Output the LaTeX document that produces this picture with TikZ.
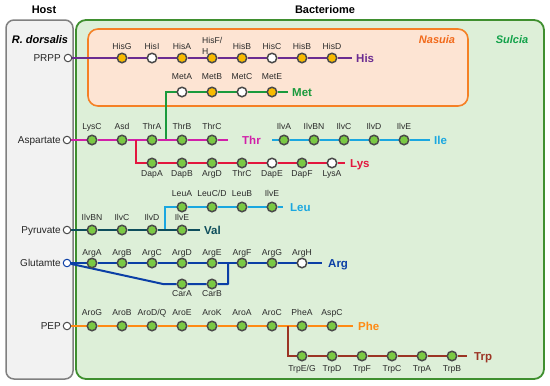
\documentclass[tikz,border=0pt]{standalone}
\usepackage{fontspec}
\setmainfont{Liberation Sans}
\definecolor{hostfill}{HTML}{F2F2F2}
\definecolor{hostdraw}{HTML}{808080}
\definecolor{bacfill}{HTML}{DDEFD8}
\definecolor{bacdraw}{HTML}{3F8F2F}
\definecolor{nasfill}{HTML}{FDE4D3}
\definecolor{nasdraw}{HTML}{F58025}
\definecolor{nastext}{HTML}{F26A1B}
\definecolor{sultext}{HTML}{12A24A}
\definecolor{ndgray}{HTML}{4A4A4A}
\definecolor{ngreen}{HTML}{7AC943}
\definecolor{nyellow}{HTML}{F8BA00}
\definecolor{labgray}{HTML}{2A2A2A}
\definecolor{hiscol}{HTML}{6B2C91}
\definecolor{metcol}{HTML}{1A9A3C}
\definecolor{thrcol}{HTML}{D11FA8}
\definecolor{lyscol}{HTML}{E3173E}
\definecolor{ilecol}{HTML}{1AA7E0}
\definecolor{valcol}{HTML}{0E4E5C}
\definecolor{argcol}{HTML}{0B3FA6}
\definecolor{phecol}{HTML}{FF8A14}
\definecolor{trpcol}{HTML}{9B3424}
\pgfdeclarelayer{bg}
\pgfdeclarelayer{ln}
\pgfsetlayers{bg,ln,main}
\begin{document}
\begin{tikzpicture}[x=1pt,y=-1pt,
  enz/.style={circle,draw=ndgray,line width=1.5pt,minimum size=9.5pt,inner sep=0pt},
  gn/.style={enz,fill=ngreen},
  yl/.style={enz,fill=nyellow},
  wh/.style={enz,fill=white},
  hostc/.style={circle,draw=ndgray,fill=white,line width=1pt,minimum size=7.5pt,inner sep=0pt},
  lab/.style={font=\fontsize{8.6}{10}\selectfont,text=labgray,inner sep=0pt,anchor=base},
  hlab/.style={font=\fontsize{10}{12}\selectfont,text=black!85,inner sep=0pt,anchor=base east},
  pw/.style={font=\fontsize{11.5}{13}\selectfont\bfseries,inner sep=0pt,anchor=base west},
  ttl/.style={font=\fontsize{11}{13}\selectfont\bfseries,inner sep=0pt},
  pl/.style={line width=2pt},
]
\useasboundingbox (0,0) rectangle (550,386);

% boxes
\begin{pgfonlayer}{bg}
\draw[fill=hostfill,draw=hostdraw,line width=1.5pt,rounded corners=8pt] (6,20) rectangle (73,379);
\draw[fill=bacfill,draw=bacdraw,line width=1.8pt,rounded corners=10pt] (76,20) rectangle (544,379);
\draw[fill=nasfill,draw=nasdraw,line width=1.6pt,rounded corners=10pt] (88,29) rectangle (468,106);
\end{pgfonlayer}

% titles
\node[ttl] (hostT) at (44,10) {Host};
\node[ttl] (bacT) at (325,10) {Bacteriome};
\node[ttl,font=\fontsize{11}{13}\selectfont\bfseries\itshape] (rdT) at (40,40) {R. dorsalis};
\node[ttl,font=\fontsize{11}{13}\selectfont\bfseries\itshape,text=nastext] (nasT) at (437,40) {Nasuia};
\node[ttl,font=\fontsize{11}{13}\selectfont\bfseries\itshape,text=sultext] (sulT) at (512,40) {Sulcia};

% host metabolites
\node[hostc] (prpp) at (68,58) {};
\node[hlab] (prppT) at (61,61.5) {PRPP};
\node[hostc] (asp) at (67,140) {};
\node[hlab] (aspT) at (61,143.5) {Aspartate};
\node[hostc] (pyr) at (67,230) {};
\node[hlab] (pyrT) at (61,233.5) {Pyruvate};
\node[hostc,draw=argcol] (glu) at (67,263) {};
\node[hlab] (gluT) at (61,266.5) {Glutamte};
\node[hostc] (pep) at (67,326) {};
\node[hlab] (pepT) at (61,329.5) {PEP};

% His
\foreach \n/\x/\t/\s in {hisG/122/HisG/yl,hisI/152/HisI/wh,hisA/182/HisA/yl,hisB/242/HisB/yl,hisC/272/HisC/wh,hisBb/302/HisB/yl,hisD/332/HisD/yl}{
  \node[\s] (\n) at (\x,58) {};
  \node[lab] (\n-l) at (\x,49) {\t};
}
\node[yl] (hisFH) at (212,58) {};
\node[lab,anchor=base west] (hisFH-l) at (202,43) {HisF/};
\node[lab,anchor=base west] (hisFH-m) at (202,54) {H};
\coordinate (hisEnd) at (352,58);
\node[pw,text=hiscol] (hisT) at (356,62) {His};

% Met
\foreach \n/\x/\t/\s in {metA/182/MetA/wh,metB/212/MetB/yl,metC/242/MetC/wh,metE/272/MetE/yl}{
  \node[\s] (\n) at (\x,92) {};
  \node[lab] (\n-l) at (\x,79) {\t};
}
\coordinate (metBr) at (166,140);
\coordinate (metEnd) at (288,92);
\node[pw,text=metcol] (metT) at (292,96) {Met};

% Thr
\foreach \n/\x/\t in {lysC/92/LysC,asd/122/Asd,thrA/152/ThrA,thrB/182/ThrB,thrC/212/ThrC}{
  \node[gn] (\n) at (\x,140) {};
  \node[lab] (\n-l) at (\x,129) {\t};
}
\coordinate (thrEnd) at (228,140);
\node[pw,text=thrcol] (thrT) at (242,144) {Thr};

% Ile
\foreach \n/\x/\t in {ilvA/284/IlvA,ilvBN/314/IlvBN,ilvC/344/IlvC,ilvD/374/IlvD,ilvE/404/IlvE}{
  \node[gn] (\n) at (\x,140) {};
  \node[lab] (\n-l) at (\x,129) {\t};
}
\coordinate (ileStart) at (272,140);
\coordinate (ileEnd) at (430,140);
\node[pw,text=ilecol] (ileT) at (434,144) {Ile};

% Lys
\foreach \n/\x/\t/\s in {dapA/152/DapA/gn,dapB/182/DapB/gn,argDl/212/ArgD/gn,thrCl/242/ThrC/gn,dapE/272/DapE/wh,dapF/302/DapF/gn,lysA/332/LysA/wh}{
  \node[\s] (\n) at (\x,163) {};
  \node[lab] (\n-l) at (\x,176) {\t};
}
\coordinate (lysBr) at (136,140);
\coordinate (lysEnd) at (345,163);
\node[pw,text=lyscol] (lysT) at (350,167) {Lys};

% Leu
\foreach \n/\x/\t in {leuA/182/LeuA,leuCD/212/{LeuC/D},leuB/242/LeuB,ilvEl/272/IlvE}{
  \node[gn] (\n) at (\x,207) {};
  \node[lab] (\n-l) at (\x,196) {\t};
}
\coordinate (leuBr) at (165,230);
\coordinate (leuEnd) at (283,207);
\node[pw,text=ilecol] (leuT) at (290,211) {Leu};

% Val
\foreach \n/\x/\t in {ilvBNv/92/IlvBN,ilvCv/122/IlvC,ilvDv/152/IlvD,ilvEv/182/IlvE}{
  \node[gn] (\n) at (\x,230) {};
  \node[lab] (\n-l) at (\x,220) {\t};
}
\coordinate (valEnd) at (200,230);
\node[pw,text=valcol] (valT) at (204,234) {Val};

% Arg
\foreach \n/\x/\t/\s in {argA/92/ArgA/gn,argB/122/ArgB/gn,argC/152/ArgC/gn,argD/182/ArgD/gn,argE/212/ArgE/gn,argF/242/ArgF/gn,argG/272/ArgG/gn,argH/302/ArgH/wh}{
  \node[\s] (\n) at (\x,263) {};
  \node[lab] (\n-l) at (\x,255) {\t};
}
\coordinate (argEnd) at (322,263);
\node[pw,text=argcol] (argT) at (328,267) {Arg};
\foreach \n/\x/\t in {carA/182/CarA,carB/212/CarB}{
  \node[gn] (\n) at (\x,284) {};
  \node[lab] (\n-l) at (\x,296) {\t};
}
\coordinate (carK) at (163,284);
\coordinate (carEnd) at (228,284);
\coordinate (argBr) at (228,263);

% Phe
\foreach \n/\x/\t in {aroG/92/AroG,aroB/122/AroB,aroDQ/152/{AroD/Q},aroE/182/AroE,aroK/212/AroK,aroA/242/AroA,aroC/272/AroC,pheA/302/PheA,aspC/332/AspC}{
  \node[gn] (\n) at (\x,326) {};
  \node[lab] (\n-l) at (\x,315) {\t};
}
\coordinate (pheEnd) at (353,326);
\node[pw,text=phecol] (pheT) at (358,330) {Phe};

% Trp
\foreach \n/\x/\t in {trpEG/302/{TrpE/G},trpD/332/TrpD,trpF/362/TrpF,trpC/392/TrpC,trpA/422/TrpA,trpB/452/TrpB}{
  \node[gn] (\n) at (\x,356) {};
  \node[lab] (\n-l) at (\x,371) {\t};
}
\coordinate (trpBr) at (288,326);
\coordinate (trpEnd) at (467,356);
\node[pw,text=trpcol] (trpT) at (474,360) {Trp};

% pathway lines
\begin{pgfonlayer}{ln}
\draw[pl,hiscol] (prpp) -- (hisG) -- (hisI) -- (hisA) -- (hisFH) -- (hisB) -- (hisC) -- (hisBb) -- (hisD) -- (hisEnd);
\draw[pl,metcol] (metBr) |- (metA) -- (metB) -- (metC) -- (metE) -- (metEnd);
\draw[pl,thrcol] (asp) -- (lysC) -- (asd) -- (thrA) -- (thrB) -- (thrC) -- (thrEnd);
\draw[pl,ilecol] (ileStart) -- (ilvA) -- (ilvBN) -- (ilvC) -- (ilvD) -- (ilvE) -- (ileEnd);
\draw[pl,lyscol] (lysBr) |- (dapA) -- (dapB) -- (argDl) -- (thrCl) -- (dapE) -- (dapF) -- (lysA) -- (lysEnd);
\draw[pl,ilecol] (leuBr) |- (leuA) -- (leuCD) -- (leuB) -- (ilvEl) -- (leuEnd);
\draw[pl,valcol] (pyr) -- (ilvBNv) -- (ilvCv) -- (ilvDv) -- (ilvEv) -- (valEnd);
\draw[pl,argcol] (glu) -- (argA) -- (argB) -- (argC) -- (argD) -- (argE) -- (argF) -- (argG) -- (argH) -- (argEnd);
\draw[pl,argcol,line join=round] (glu) -- (carK) -- (carA) -- (carB) -- (carEnd) -- (argBr);
\draw[pl,phecol] (pep) -- (aroG) -- (aroB) -- (aroDQ) -- (aroE) -- (aroK) -- (aroA) -- (aroC) -- (pheA) -- (aspC) -- (pheEnd);
\draw[pl,trpcol] (trpBr) |- (trpEG) -- (trpD) -- (trpF) -- (trpC) -- (trpA) -- (trpB) -- (trpEnd);
\end{pgfonlayer}
\end{tikzpicture}
\end{document}
